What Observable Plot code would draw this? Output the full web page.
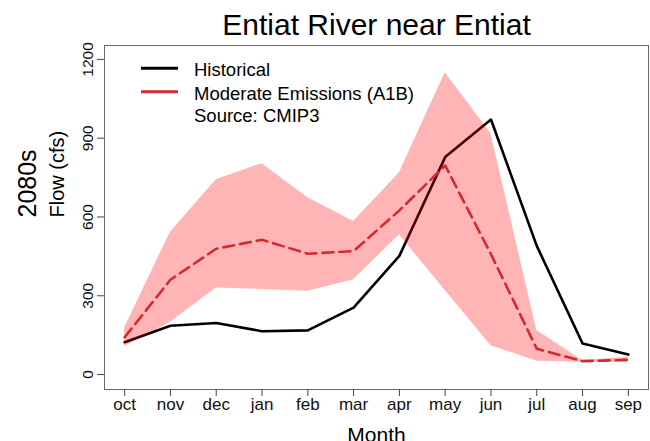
<!DOCTYPE html>
<html>
<head>
<meta charset="utf-8">
<script src="https://cdn.jsdelivr.net/npm/d3@7"></script>
<script src="https://cdn.jsdelivr.net/npm/@observablehq/plot@0.6"></script>
<style>
  html, body { margin: 0; padding: 0; background: #fff; }
  svg { display: block; }
</style>
</head>
<body>
<div id="chart"></div>
<script>
const months = ["oct","nov","dec","jan","feb","mar","apr","may","jun","jul","aug","sep"];
const historical = [123,186,196,165,168,255,452,828,971,490,118,76];
const a1bMedian = [142,361,479,513,460,470,625,796,458,98,51,56];
const a1bUpper  = [178,542,742,803,673,583,768,1149,917,168,53,66];
const a1bLower  = [107,199,330,324,317,361,532,320,110,51,47,47];
const yTicks = [0,300,600,900,1200];
const title = "Entiat River near Entiat";
const legendLabels = ["Historical","Moderate Emissions (A1B)","Source: CMIP3"];

const data = months.map((m,i) => ({
  i: i + 1, month: m,
  hist: historical[i], med: a1bMedian[i], hi: a1bUpper[i], lo: a1bLower[i]
}));

const font = "Liberation Sans, Arial, sans-serif";
const red = "#d42a2e";

const plot = Plot.plot({
  width: 650,
  height: 441,
  marginLeft: 104,
  marginRight: 2,
  marginTop: 45,
  marginBottom: 52,
  style: {fontFamily: font, background: "#fff", overflow: "visible"},
  x: {type: "linear", domain: [0.56, 12.44]},
  y: {domain: [-57, 1253]},
  marks: [
    Plot.line(data, {x: "i", y: "hist", stroke: "black", strokeWidth: 2.6}),
    Plot.areaY(data, {x: "i", y1: "lo", y2: "hi", fill: "red", fillOpacity: 0.29}),
    Plot.line(data, {x: "i", y: "med", stroke: red, strokeWidth: 2.6, strokeDasharray: "11,6"}),
    Plot.frame({stroke: "#666", strokeWidth: 1}),
    Plot.axisX({ticks: data.map(d => d.i), tickFormat: i => months[i - 1], tickSize: 7, tickPadding: 1,
                fontSize: 17, label: null, stroke: "#444", fill: "#111"}),
    Plot.axisY({ticks: yTicks, tickSize: 7, tickFormat: () => "", label: null, stroke: "#444"}),
    Plot.text(yTicks, {y: d => d, text: d => String(d), frameAnchor: "left", dx: -16,
                       rotate: -90, textAnchor: "middle", lineAnchor: "middle", fontSize: 15.5, fill: "#111"}),
    Plot.text([title], {frameAnchor: "top", dy: -11, lineAnchor: "bottom", fontSize: 30, fill: "#000"}),
    Plot.text(["2080s"], {frameAnchor: "left", dx: -77, rotate: -90, lineAnchor: "middle", fontSize: 25, fill: "#000"}),
    Plot.text(["Flow (cfs)"], {frameAnchor: "left", dx: -47, rotate: -90, lineAnchor: "middle", fontSize: 20, fill: "#000"}),
    Plot.text(["Month"], {frameAnchor: "bottom", dy: 52, lineAnchor: "bottom", fontSize: 21, fill: "#000"})
  ]
});

document.getElementById("chart").appendChild(plot);

// legend (positioned relative to the frame's top-left corner)
const svg = d3.select(plot);
const fx = 104, fy = 45;
const lg = svg.append("g").attr("transform", `translate(${fx},${fy})`)
  .attr("font-family", font).attr("font-size", 18.5).attr("text-anchor", "start");
const legendStyles = [{stroke: "black"}, {stroke: red}, null];
const rowBase = [30.7, 55, 76.7];
const rowLine = [23.3, 46.7];
legendLabels.forEach((t, k) => {
  if (legendStyles[k]) {
    lg.append("line").attr("x1", 37).attr("x2", 74)
      .attr("y1", rowLine[k]).attr("y2", rowLine[k])
      .attr("stroke", legendStyles[k].stroke).attr("stroke-width", 3);
  }
  lg.append("text").attr("x", 90).attr("y", rowBase[k]).attr("fill", "#000")
    .attr("text-anchor", "start").text(t);
});
</script>
</body>
</html>
